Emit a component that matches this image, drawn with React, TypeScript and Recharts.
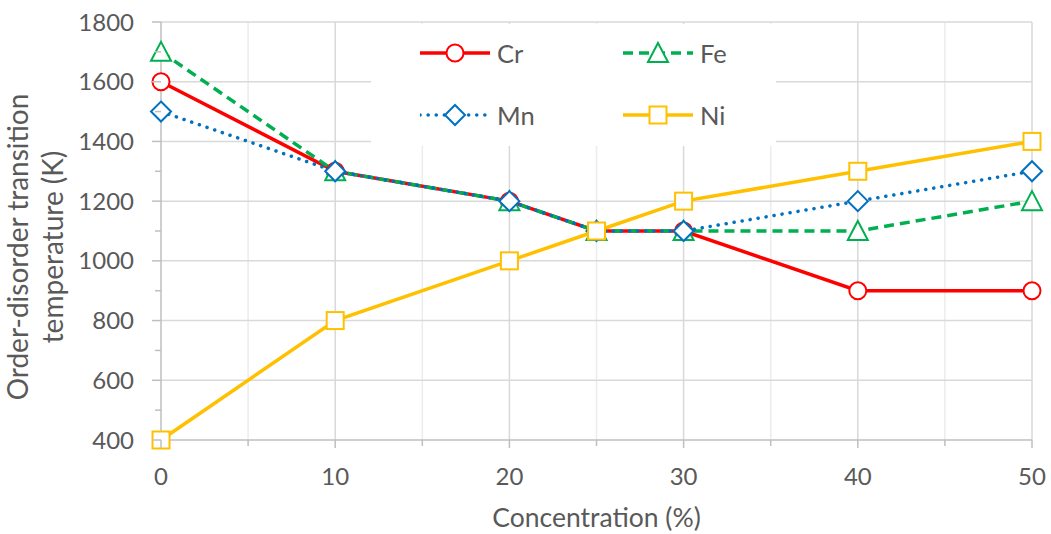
import { LineChart, Line, XAxis, YAxis, CartesianGrid, Legend } from 'recharts';

document.body.style.margin = '0';

const concentration = [0, 10, 20, 25, 30, 40, 50];
const cr = [1600, 1300, 1200, 1100, 1100, 900, 900];
const fe = [1700, 1300, 1200, 1100, 1100, 1100, 1200];
const mn = [1500, 1300, 1200, 1100, 1100, 1200, 1300];
const ni = [400, 800, 1000, 1100, 1200, 1300, 1400];

const xTicks = [0, 5, 10, 15, 20, 25, 30, 35, 40, 45, 50];
const xLabels = [0, 10, 20, 30, 40, 50];
const yTicks = [400, 500, 600, 700, 800, 900, 1000, 1100, 1200, 1300, 1400, 1500, 1600, 1700, 1800];
const yLabels = [400, 600, 800, 1000, 1200, 1400, 1600, 1800];
const xMajorGrid = [10, 20, 30, 40, 50];
const xMinorGrid = [5, 15, 25, 35, 45];
const yGrid = [600, 800, 1000, 1200, 1400, 1600, 1800];

const data = concentration.map((c, i) => ({ c, cr: cr[i], fe: fe[i], mn: mn[i], ni: ni[i] }));

const FONT = 'Lato, "Open Sans", sans-serif';
const TEXT = '#595959';
const AXIS = '#bfbfbf';

const COLORS = { cr: '#ff0000', fe: '#00b050', mn: '#0070c0', ni: '#ffc000' };

type Shape = 'circle' | 'triangle' | 'diamond' | 'square';

function Marker({ cx, cy, shape, color }: { cx: number; cy: number; shape: Shape; color: string }) {
  const common = { fill: '#fff', stroke: color, strokeWidth: 2 };
  if (shape === 'circle') return <circle cx={cx} cy={cy} r={8.5} {...common} />;
  if (shape === 'square') return <rect x={cx - 8.5} y={cy - 8.5} width={17} height={17} {...common} />;
  if (shape === 'diamond')
    return <path d={`M${cx},${cy - 10}L${cx + 10},${cy}L${cx},${cy + 10}L${cx - 10},${cy}Z`} {...common} />;
  return <path d={`M${cx},${cy - 10}L${cx + 10},${cy + 9}L${cx - 10},${cy + 9}Z`} {...common} />;
}

const series = [
  { key: 'cr', name: 'Cr', color: COLORS.cr, shape: 'circle' as Shape, dash: undefined as string | undefined, width: 3.5, cap: 'butt' },
  { key: 'fe', name: 'Fe', color: COLORS.fe, shape: 'triangle' as Shape, dash: '10 6', width: 3.5, cap: 'butt' },
  { key: 'mn', name: 'Mn', color: COLORS.mn, shape: 'diamond' as Shape, dash: '0.1 8', width: 3.5, cap: 'round' },
  { key: 'ni', name: 'Ni', color: COLORS.ni, shape: 'square' as Shape, dash: undefined as string | undefined, width: 3.5, cap: 'butt' },
];

const XTick = ({ x, y, payload }: any) => {
  const major = xLabels.includes(payload.value);
  return (
    <g>
      <line x1={x} x2={x} y1={y} y2={y + (major ? 8 : 6)} stroke={AXIS} strokeWidth={1.5} />
      {major && (
        <text x={x} y={y + 45} textAnchor="middle" fill={TEXT} fontSize={24} fontFamily={FONT}>
          {payload.value}
        </text>
      )}
    </g>
  );
};

const YTick = ({ x, y, payload }: any) => {
  const major = yLabels.includes(payload.value);
  return (
    <g>
      <line x1={x} x2={x - (major ? 9 : 6)} y1={y} y2={y} stroke={AXIS} strokeWidth={1.5} />
      {major && (
        <text x={x - 27} y={y} dy="0.36em" textAnchor="end" fill={TEXT} fontSize={24} fontFamily={FONT}>
          {payload.value}
        </text>
      )}
    </g>
  );
};

// two-line rotated axis title, left of the tick labels
const YTitle = ({ viewBox }: any) => {
  const cy = viewBox.y + viewBox.height / 2 + 16;
  return (
    <g fill={TEXT} fontSize={28} fontFamily={FONT}>
      <text x={28} y={cy} textAnchor="middle" transform={`rotate(-90, 28, ${cy})`}>
        Order-disorder transition
      </text>
      <text x={63} y={cy} textAnchor="middle" transform={`rotate(-90, 63, ${cy})`}>
        temperature (K)
      </text>
    </g>
  );
};

const XTitle = ({ viewBox }: any) => (
  <text x={viewBox.x + viewBox.width / 2} y={527} textAnchor="middle" fill={TEXT} fontSize={26.5} fontFamily={FONT}>
    Concentration (%)
  </text>
);

const LegendBox = () => (
  <div style={{ position: 'relative', width: 405, height: 122, background: '#fff' }}>
    {series.map((s, i) => {
      const col = i % 2;
      const row = Math.floor(i / 2);
      return (
        <div
          key={s.key}
          style={{
            position: 'absolute',
            left: 49 + col * 203,
            top: 29 + row * 62 - 16,
            height: 32,
            display: 'flex',
            alignItems: 'center',
          }}
        >
          <svg width={70} height={32}>
            <line
              x1={0}
              x2={70}
              y1={16}
              y2={16}
              stroke={s.color}
              strokeWidth={s.width}
              strokeDasharray={s.dash}
              strokeLinecap={s.cap as any}
            />
            <Marker cx={35} cy={16} shape={s.shape} color={s.color} />
          </svg>
          <span style={{ marginLeft: 7, fontFamily: FONT, fontSize: 25.5, color: TEXT, lineHeight: '32px' }}>{s.name}</span>
        </div>
      );
    })}
  </div>
);

export default function App() {
  return (
    <LineChart width={1051} height={534} data={data} margin={{ top: 22, right: 19, bottom: 0, left: 0 }}>
      <CartesianGrid horizontal={false} verticalValues={xMinorGrid} stroke="#ececec" strokeWidth={1.5} />
      <CartesianGrid horizontalValues={yGrid} verticalValues={xMajorGrid} stroke="#d9d9d9" strokeWidth={1.5} />
      <XAxis
        dataKey="c"
        type="number"
        domain={[0, 50]}
        ticks={xTicks}
        interval={0}
        height={94}
        tickSize={0}
        tickMargin={0}
        tick={<XTick />}
        axisLine={{ stroke: AXIS, strokeWidth: 1.5 }}
        label={<XTitle />}
      />
      <YAxis
        type="number"
        domain={[400, 1800]}
        ticks={yTicks}
        interval={0}
        width={161}
        tickSize={0}
        tickMargin={0}
        tick={<YTick />}
        axisLine={{ stroke: AXIS, strokeWidth: 1.5 }}
        label={<YTitle />}
      />
      <Legend
        content={<LegendBox />}
        layout="horizontal"
        verticalAlign="middle"
        align="center"
        wrapperStyle={{ left: 371, top: 24, width: 405, height: 122 }}
      />
      {series.map((s) => (
        <Line
          key={s.key}
          dataKey={s.key}
          name={s.name}
          type="linear"
          stroke={s.color}
          strokeWidth={s.width}
          strokeDasharray={s.dash}
          strokeLinecap={s.cap as any}
          dot={(p: any) => <Marker key={`${s.key}-${p.index}`} cx={p.cx} cy={p.cy} shape={s.shape} color={s.color} />}
          activeDot={false}
          isAnimationActive={false}
        />
      ))}
    </LineChart>
  );
}
